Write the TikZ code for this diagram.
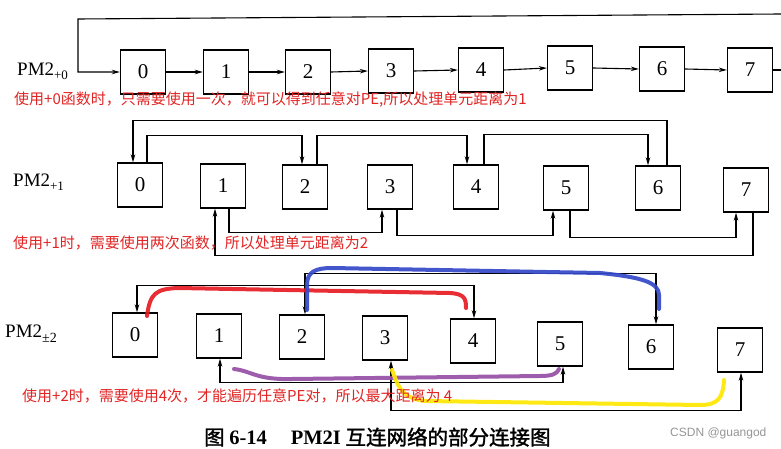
\documentclass[tikz,border=0pt]{standalone}
\usepackage{fontspec}
\setmainfont{Liberation Serif}
\newfontfamily\cjk{Noto Sans CJK SC}
\newfontfamily\cjkbold[FakeBold=1.5]{Noto Sans CJK SC}
\newfontfamily\wmfont{Liberation Sans}
\usetikzlibrary{arrows.meta}
\definecolor{annot}{RGB}{226,36,36}
\definecolor{hred}{RGB}{232,28,36}
\definecolor{hblue}{RGB}{52,72,200}
\definecolor{hpurple}{RGB}{150,80,165}
\definecolor{hyellow}{RGB}{255,232,0}
\definecolor{wmgray}{RGB}{150,150,150}
\begin{document}
\begin{tikzpicture}[x=1pt,y=-1pt,
  pe/.style={draw, line width=1.4pt, minimum width=45pt, minimum height=44pt, inner sep=0pt, font=\fontsize{21}{21}\selectfont},
  link/.style={line width=1.1pt},
  arr/.style={link, -{Stealth[length=8pt,width=4.5pt]}},
  arrb/.style={link, {Stealth[length=8pt,width=4.5pt]}-{Stealth[length=8pt,width=4.5pt]}},
  note/.style={font=\cjk\fontsize{15}{15}\selectfont, text=annot, anchor=west, inner sep=0pt},
  lbl/.style={anchor=west, inner sep=0pt, font=\fontsize{19}{19}\selectfont},
  hl/.style={line width=4pt, line cap=round, opacity=0.92}]
\fill[white] (0,0) rectangle (781,449);
\useasboundingbox (0,0) rectangle (781,449);

% ---------- Row 1: PM2+0 ----------
\node[lbl] (l0) at (17,71) {PM2\raisebox{-0.5ex}{\fontsize{13}{13}\selectfont +0}};
\node[pe] (a0) at (143,72) {0};
\node[pe] (a1) at (226,72) {1};
\node[pe] (a2) at (308,72) {2};
\node[pe] (a3) at (391,71) {3};
\node[pe] (a4) at (481,70) {4};
\node[pe] (a5) at (570,68) {5};
\node[pe] (a6) at (662,69) {6};
\node[pe] (a7) at (750,70) {7};
\draw[arr] (a0.east) -- (a1.west);
\draw[arr] (a1.east) -- (a2.west);
\draw[arr] (a2.east) -- (a3.west);
\draw[arr] (a3.east) -- (a4.west);
\draw[arr] (a4.east) -- (a5.west);
\draw[arr] (a5.east) -- (a6.west);
\draw[arr] (a6.east) -- (a7.west);
\coordinate (loopR) at (781,70);
\coordinate (loopT) at (781,14);
\coordinate (loopL) at (78,19);
\draw[link] (a7.east) -- (loopR);
\draw[arr] (loopT) -- (loopL) |- (a0.west);
\node[note] (t0) at (14,100) {使用+0函数时，只需要使用一次，就可以得到任意对PE,所以处理单元距离为1};

% ---------- Row 2: PM2+1 ----------
\node[lbl] (l1) at (13,182) {PM2\raisebox{-0.5ex}{\fontsize{13}{13}\selectfont +1}};
\node[pe] (b0) at (140,185) {0};
\node[pe] (b1) at (223,186) {1};
\node[pe] (b2) at (305,187) {2};
\node[pe] (b3) at (390,187) {3};
\node[pe] (b4) at (476,187) {4};
\node[pe] (b5) at (566,188) {5};
\node[pe] (b6) at (658,188) {6};
\node[pe] (b7) at (746,190) {7};
\draw[arr] ([xshift=9]b6.north) -- ++(0,-45) -| ([xshift=-7]b0.north);
\draw[arr] ([xshift=7]b0.north) -- ++(0,-27) -| ([xshift=-3]b2.north);
\draw[arr] ([xshift=12]b2.north) -- ++(0,-29) -| ([xshift=-9]b4.north);
\draw[arr] ([xshift=8]b4.north) -- ++(0,-30) -| ([xshift=-10]b6.north);
\draw[arr] ([xshift=6]b1.south) -- ++(0,24) -| ([xshift=-8]b3.south);
\draw[arr] ([xshift=7]b3.south) -- ++(0,26) -| ([xshift=-13]b5.south);
\draw[arr] ([xshift=4]b5.south) -- ++(0,27) -| ([xshift=-10]b7.south);
\draw[arr] ([xshift=7]b7.south) -- ++(0,43) -| ([xshift=-8]b1.south);
\node[note] (t1) at (13,243) {使用+1时，需要使用两次函数，所以处理单元距离为2};

% ---------- Row 3: PM2+-2 ----------
\node[lbl] (l2) at (5,334) {PM2\raisebox{-0.6ex}{\fontsize{14}{14}\selectfont ±2}};
\node[pe] (c0) at (135,335) {0};
\node[pe] (c1) at (219,336) {1};
\node[pe] (c2) at (302,337) {2};
\node[pe] (c3) at (385,338) {3};
\node[pe] (c4) at (473,341) {4};
\node[pe] (c5) at (560,344) {5};
\node[pe] (c6) at (651,347) {6};
\node[pe] (c7) at (740,350) {7};
\draw[arrb] ([xshift=2]c0.north) -- ++(0,-27) -| ([xshift=1]c4.north);
\draw[arrb] ([xshift=3]c2.north) -- ++(0,-41) -| ([xshift=5]c6.north);
\draw[arrb] ([xshift=1]c1.south) -- ++(0,24) -| ([xshift=3]c5.south);
\draw[arrb] ([xshift=6]c3.south) -- ++(0,50) -| ([xshift=1]c7.south);

% highlight strokes
\draw[hl, hred] (147,316) .. controls (150,293) and (156,289) .. (178,288)
   -- (450,293) .. controls (465,294) and (466,299) .. (466,308);
\draw[hl, hblue] (307,310) -- (307,285) .. controls (307,272) and (315,268) .. (332,268)
   -- (600,273) .. controls (640,277) and (659,282) .. (659,295) -- (659,309);
\draw[hl, hpurple] (234,369) .. controls (252,371) and (256,380) .. (292,379)
   -- (540,376) .. controls (552,376) and (557,374) .. (559,369);
\draw[hl, hyellow] (392,370) .. controls (398,385) and (400,398) .. (425,401)
   -- (700,405) .. controls (718,405) and (723,398) .. (724,380);

\node[note] (t2) at (22,396) {使用+2时，需要使用4次，才能遍历任意PE对，所以最大距离为 4};

% caption
\node[anchor=west, inner sep=0pt] (cap) at (204,437) {\cjkbold\fontsize{20.5}{20.5}\selectfont 图\ {\rmfamily\bfseries 6-14}\hspace{24pt}{\rmfamily\bfseries PM2I} 互连网络的部分连接图};
\node[anchor=west, inner sep=0pt, text=wmgray, font=\wmfont\fontsize{12}{12}\selectfont] (wm) at (670,433) {CSDN @guangod};
\end{tikzpicture}
\end{document}
